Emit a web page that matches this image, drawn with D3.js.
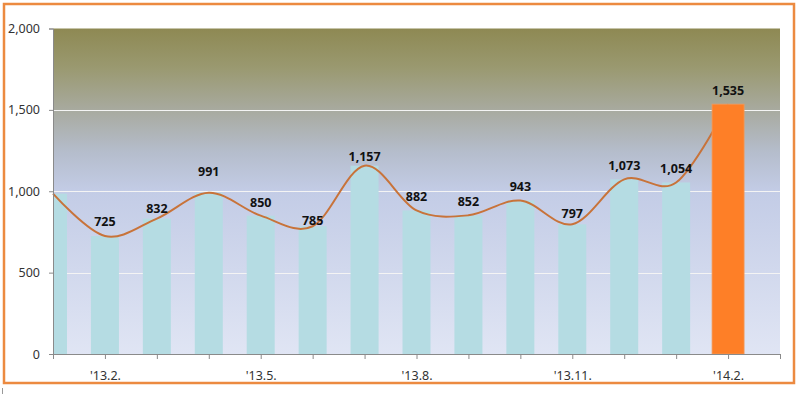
<!DOCTYPE html>
<html><head><meta charset="utf-8">
<script src="https://cdn.jsdelivr.net/npm/d3@7"></script>
<style>html,body{margin:0;padding:0;background:#fff;}svg{display:block;}</style>
</head><body>
<svg id="c" width="800" height="394"></svg>
<script>
// ---- data ----
const months = ["'13.1.","'13.2.","'13.3.","'13.4.","'13.5.","'13.6.","'13.7.","'13.8.","'13.9.","'13.10.","'13.11.","'13.12.","'14.1.","'14.2."];
const values = [985, 725, 832, 991, 850, 785, 1157, 882, 852, 943, 797, 1073, 1054, 1535];
const showLabel = [false, true, true, true, true, true, true, true, true, true, true, true, true, true];
const tickLabels = ["'13.2.","'13.5.","'13.8.","'13.11.","'14.2."];
const yTicks = [0, 500, 1000, 1500, 2000];
// ---- layout ----
const labelShift = [0, -14, -10, -21, -13, -6, -9, -14, -14, -14, -11, -13.5, -13.5, -13.5];

const svg = d3.select("#c");
const L = 53, R = 780, T = 28.5, B = 354;
const x = d3.scaleLinear().domain([0, months.length]).range([L, R]);
const y = d3.scaleLinear().domain([0, 2000]).range([B, T]);

// border
svg.append("rect").attr("x", 4).attr("y", 4).attr("width", 790).attr("height", 379)
  .attr("fill", "none").attr("stroke", "#ec8a40").attr("stroke-width", 2.5);
svg.append("line").attr("x1", 2.5).attr("x2", 2.5).attr("y1", 388).attr("y2", 394)
  .attr("stroke", "#999").attr("stroke-width", 1);

const defs = svg.append("defs");
const g = defs.append("linearGradient").attr("id", "bg").attr("x1", 0).attr("y1", 0).attr("x2", 0).attr("y2", 1);
[[0, "#8e8953"], [0.12, "#9a9970"], [0.25, "#a8aa9f"], [0.38, "#b5bdcc"], [0.5, "#c3cce6"], [1, "#e0e5f4"]]
  .forEach(s => g.append("stop").attr("offset", s[0]).attr("stop-color", s[1]));
defs.append("clipPath").attr("id", "clip").append("rect")
  .attr("x", L).attr("y", T - 2).attr("width", R - L).attr("height", B - T + 2);

svg.append("rect").attr("x", L).attr("y", T).attr("width", R - L).attr("height", B - T).attr("fill", "url(#bg)");

// gridlines
svg.append("g").selectAll("line").data(yTicks.filter(d => d > 0 && d < 2000)).join("line")
  .attr("x1", L).attr("x2", R).attr("y1", d => Math.round(y(d)) + 0.5).attr("y2", d => Math.round(y(d)) + 0.5)
  .attr("stroke", "#f4f4f4").attr("stroke-width", 1.2);

// light bars
const bw = 28;
const n = values.length;
svg.append("g").attr("clip-path", "url(#clip)").selectAll("rect")
  .data(values.slice(0, n - 1)).join("rect")
  .attr("x", (d, i) => x(i) - bw / 2).attr("width", bw)
  .attr("y", d => y(d)).attr("height", d => B - y(d))
  .attr("fill", "#b5dce3");

// line
const line = d3.line().x((d, i) => x(i)).y(d => y(d)).curve(d3.curveCardinal.tension(0));
svg.append("path").datum(values).attr("d", line)
  .attr("fill", "none").attr("stroke", "#c8733a").attr("stroke-width", 2);

// highlighted last bar
const ow = 32;
svg.append("rect").attr("x", x(n - 1) - ow / 2).attr("width", ow)
  .attr("y", y(values[n - 1])).attr("height", B - y(values[n - 1]))
  .attr("fill", "#fe7f27").attr("stroke", "#f39a5a").attr("stroke-width", 0.8);

// axes
const yAxis = d3.axisLeft(y).tickValues(yTicks).tickSize(4).tickPadding(9).tickFormat(d3.format(","));
const ya = svg.append("g").attr("transform", `translate(${L},0)`).call(yAxis);
const xAxis = d3.axisBottom(x).tickValues(d3.range(months.length + 1)).tickSize(5).tickPadding(12)
  .tickFormat(i => tickLabels.includes(months[i]) ? months[i] : "");
const xa = svg.append("g").attr("transform", `translate(0,${B})`).call(xAxis);
[ya, xa].forEach(a => {
  a.select(".domain").attr("stroke", "#8a8a8a");
  a.selectAll(".tick line").attr("stroke", "#8a8a8a");
  a.selectAll("text").attr("fill", "#333").style("font-family", "'Noto Sans', sans-serif").style("font-size", "12.5px");
});

// value labels
const labelData = values.map((v, i) => ({ v, i })).filter(o => showLabel[o.i]);
svg.append("g").selectAll("text").data(labelData).join("text")
  .attr("x", o => x(o.i))
  .attr("y", o => y(o.v) + labelShift[o.i])
  .attr("dy", "0.35em")
  .attr("text-anchor", "middle")
  .style("font-family", "'Noto Sans', sans-serif").style("font-size", "12.5px").style("font-weight", "bold")
  .attr("fill", "#111")
  .text(o => d3.format(",")(o.v));
</script>
</body></html>
